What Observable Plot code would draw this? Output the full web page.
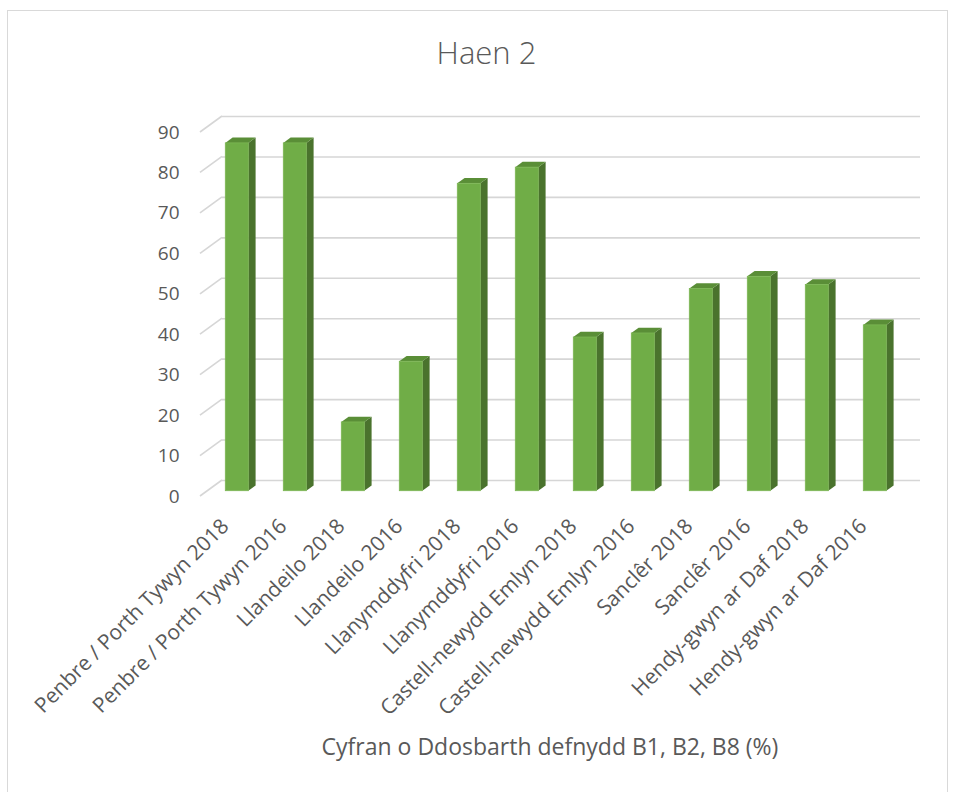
<!DOCTYPE html>
<html>
<head>
<meta charset="utf-8">
<script src="https://cdn.jsdelivr.net/npm/d3@7"></script>
<script src="https://cdn.jsdelivr.net/npm/@observablehq/plot@0.6"></script>
<style>
  body { margin: 0; background: #fff; }
  #wrap { position: relative; width: 955px; height: 792px; overflow: hidden; font-family: "Open Sans", Lato, sans-serif; color: #595959; }
  #frame { position: absolute; left: 7px; top: 10px; width: 941px; height: 790px; border: 1px solid #d9d9d9; box-sizing: border-box; }
  #title { position: absolute; left: 0; width: 955px; top: 37px; text-align: center; font-size: 31px; line-height: 31px; font-weight: 300; padding-left: 18px; box-sizing: border-box; }
  #chart { position: absolute; left: 0; top: 100px; }
  #xtitle { position: absolute; left: 0; width: 955px; top: 735px; text-align: center; font-size: 23px; line-height: 23px; padding-left: 145px; box-sizing: border-box; }
</style>
</head>
<body>
<div id="wrap">
  <div id="frame"></div>
  <div id="title">Haen 2</div>
  <div id="chart"></div>
  <div id="xtitle">Cyfran o Ddosbarth defnydd B1, B2, B8 (%)</div>
</div>
<script>
const categories = [
  "Penbre / Porth Tywyn 2018",
  "Penbre / Porth Tywyn 2016",
  "Llandeilo 2018",
  "Llandeilo 2016",
  "Llanymddyfri 2018",
  "Llanymddyfri 2016",
  "Castell-newydd Emlyn 2018",
  "Castell-newydd Emlyn 2016",
  "Sanclêr 2018",
  "Sanclêr 2016",
  "Hendy-gwyn ar Daf 2018",
  "Hendy-gwyn ar Daf 2016"
];
const values = [86, 86, 17, 32, 76, 80, 38, 39, 50, 53, 51, 41];
const yTicks = [0, 10, 20, 30, 40, 50, 60, 70, 80, 90];

const data = categories.map((c, i) => ({name: c, value: values[i]}));

// depth offsets (3-D look)
const WALL_DX = 22, WALL_DY = -16;
const BAR_DX = 7.3, BAR_DY = -5.3;
const GRID = "#d6d6d6";

function diagonals(index, scales, values, dims) {
  const g = d3.create("svg:g");
  for (const t of yTicks) {
    const y = scales.y(t);
    g.append("line")
      .attr("x1", dims.marginLeft).attr("y1", y)
      .attr("x2", dims.marginLeft + WALL_DX).attr("y2", y + WALL_DY)
      .attr("stroke", GRID).attr("stroke-width", 1.6);
  }
  return g.node();
}

function barSides(index, scales, values, dims) {
  const g = d3.create("svg:g");
  const bw = scales.x.bandwidth();
  for (const i of index) {
    const d = data[i];
    const x0 = scales.x(d.name) + BAR_DX;
    const x1 = x0 + bw;
    const yt = scales.y(d.value) + BAR_DY;
    const yb = scales.y(0) + BAR_DY;
    g.append("polygon")
      .attr("points", [[x1, yt], [x1 + BAR_DX, yt + BAR_DY], [x1 + BAR_DX, yb + BAR_DY], [x1, yb]].map(p => p.join(",")).join(" "))
      .attr("fill", "#4a732d");
    g.append("polygon")
      .attr("points", [[x0, yt], [x0 + BAR_DX, yt + BAR_DY], [x1 + BAR_DX, yt + BAR_DY], [x1, yt]].map(p => p.join(",")).join(" "))
      .attr("fill", "#5a8e37");
  }
  return g.node();
}

const plot = Plot.plot({
  width: 955,
  height: 625,
  marginLeft: 200,
  marginRight: 57,
  marginTop: 32,
  marginBottom: 229,
  style: {fontFamily: "'Open Sans', Lato, sans-serif", color: "#595959", background: "transparent"},
  x: {domain: categories, paddingInner: 0.6, paddingOuter: 0.3, axis: null},
  y: {domain: [0, 90], ticks: yTicks, tickSize: 0, tickPadding: 21, label: null},
  marks: [
    Plot.ruleY(yTicks, {dx: WALL_DX, dy: WALL_DY, stroke: GRID, strokeWidth: 1.6}),
    Plot.ruleY([0], {render: diagonals}),
    Plot.barY(data, {x: "name", y: "value", render: barSides}),
    Plot.barY(data, {x: "name", y: "value", fill: "#70ad47", stroke: "#7cb654", strokeWidth: 0.8, dx: BAR_DX, dy: BAR_DY}),
    Plot.axisY({ticks: yTicks, tickSize: 0, tickPadding: 21, fontSize: 19, label: null}),
    Plot.text(categories, {x: d => d, frameAnchor: "bottom", rotate: -45, textAnchor: "end", dy: 31, fontSize: 21, fill: "#595959"})
  ]
});
document.getElementById("chart").appendChild(plot);
</script>
</body>
</html>
